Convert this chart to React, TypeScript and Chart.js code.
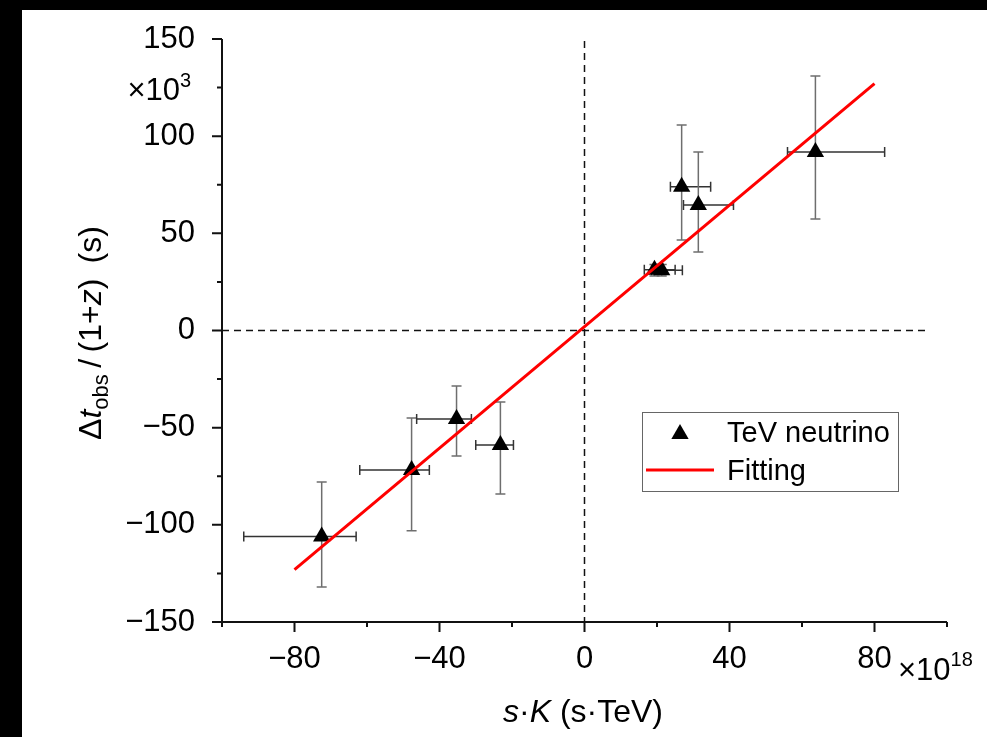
import React, { useEffect, useRef } from 'react';
import { Chart, registerables } from 'chart.js';

Chart.register(...registerables);

const FONT = '"Liberation Sans", Arial, Helvetica, sans-serif';

// TeV neutrino points (x in 1e18 s·TeV, y in 1e3 s)
const pointX = [-72.5, -47.7, -35.3, -23.2, 19.3, 21.3, 26.8, 31.4, 63.7];
const pointY = [-106, -71.8, -45.5, -58.9, 31.3, 31.0, 74, 64.6, 91.9];
const xErrLow = [-94, -62, -46.3, -30, 16.5, 18.5, 23.7, 27.3, 56];
const xErrHigh = [-63, -42.8, -31.2, -19.6, 25, 27, 34.8, 41.1, 82.8];
const yErrLow = [-132, -103, -64.6, -84.1, 28, 28, 46.6, 40.4, 57.4];
const yErrHigh = [-78, -45, -28.5, -36.8, 34, 34, 105.8, 91.9, 131];

// Fitting line
const fitX = [-80, 80];
const fitY = [-123, 127];

// Axis ranges / ticks
const xMin = -100, xMax = 100, xStep = 20, xLabelEvery = 40;
const yMin = -150, yMax = 150, yStep = 25, yLabelEvery = 50;

const fmt = (v: number) => (v < 0 ? '\u2212' + Math.abs(v) : String(v));

const decorPlugin = {
  id: 'decor',
  beforeDraw(chart: any) {
    const { ctx, width, height } = chart;
    ctx.save();
    ctx.fillStyle = '#000';
    ctx.fillRect(0, 0, width, height);
    ctx.fillStyle = '#fff';
    ctx.fillRect(22, 10, width - 22, height - 10);
    ctx.restore();
  },
  beforeDatasetsDraw(chart: any) {
    const { ctx, chartArea } = chart;
    const xs = chart.scales.x, ys = chart.scales.y;
    ctx.save();
    // dashed zero lines
    ctx.strokeStyle = '#111';
    ctx.lineWidth = 1.5;
    ctx.setLineDash([7, 5]);
    ctx.beginPath();
    const x0 = xs.getPixelForValue(0);
    ctx.moveTo(x0, chartArea.top + 2);
    ctx.lineTo(x0, chartArea.bottom);
    const y0 = ys.getPixelForValue(0);
    ctx.moveTo(chartArea.left, y0);
    ctx.lineTo(xs.getPixelForValue(95), y0);
    ctx.stroke();
    ctx.setLineDash([]);
    // error bars
    const cap = 5;
    for (let i = 0; i < pointX.length; i++) {
      const px = xs.getPixelForValue(pointX[i]);
      const py = ys.getPixelForValue(pointY[i]);
      const yl = ys.getPixelForValue(yErrLow[i]);
      const yh = ys.getPixelForValue(yErrHigh[i]);
      const xl = xs.getPixelForValue(xErrLow[i]);
      const xh = xs.getPixelForValue(xErrHigh[i]);
      ctx.lineWidth = 1.5;
      ctx.strokeStyle = '#6e6e6e';
      ctx.beginPath();
      ctx.moveTo(px, yl); ctx.lineTo(px, yh);
      ctx.moveTo(px - cap, yl); ctx.lineTo(px + cap, yl);
      ctx.moveTo(px - cap, yh); ctx.lineTo(px + cap, yh);
      ctx.stroke();
      ctx.strokeStyle = '#333';
      ctx.beginPath();
      ctx.moveTo(xl, py); ctx.lineTo(xh, py);
      ctx.moveTo(xl, py - cap); ctx.lineTo(xl, py + cap);
      ctx.moveTo(xh, py - cap); ctx.lineTo(xh, py + cap);
      ctx.stroke();
    }
    ctx.restore();
  },
  afterDraw(chart: any) {
    const { ctx, chartArea } = chart;
    const xs = chart.scales.x, ys = chart.scales.y;
    const { left, right, top, bottom } = chartArea;
    ctx.save();
    // axes
    ctx.strokeStyle = '#111';
    ctx.lineWidth = 2;
    ctx.beginPath();
    ctx.moveTo(left, top);
    ctx.lineTo(left, bottom + 1);
    ctx.moveTo(left - 1, bottom);
    ctx.lineTo(right, bottom);
    ys.ticks.forEach((t: any) => {
      const p = ys.getPixelForValue(t.value);
      const len = Math.abs(t.value) % yLabelEvery === 0 ? 10 : 5;
      ctx.moveTo(left - len, p);
      ctx.lineTo(left, p);
    });
    xs.ticks.forEach((t: any) => {
      const p = xs.getPixelForValue(t.value);
      const len = Math.abs(t.value) % xLabelEvery === 0 && Math.abs(t.value) < xMax ? 10 : 5;
      ctx.moveTo(p, bottom);
      ctx.lineTo(p, bottom + len);
    });
    ctx.stroke();

    ctx.fillStyle = '#000';
    ctx.textBaseline = 'alphabetic';
    // y multiplier ×10^3
    ctx.font = `31px ${FONT}`;
    ctx.textAlign = 'right';
    ctx.fillText('\u00d710', 180, 100);
    ctx.font = `20px ${FONT}`;
    ctx.textAlign = 'left';
    ctx.fillText('3', 180, 87);
    // x multiplier ×10^18
    ctx.font = `31px ${FONT}`;
    ctx.textAlign = 'left';
    ctx.fillText('\u00d710', 898, 680);
    const w10 = ctx.measureText('\u00d710').width;
    ctx.font = `20px ${FONT}`;
    ctx.fillText('18', 898 + w10, 666);

    // x title: s·K (s·TeV)
    const partsX = [
      { t: 's', f: `italic 32px ${FONT}` },
      { t: '\u00b7', f: `32px ${FONT}` },
      { t: 'K', f: `italic 32px ${FONT}` },
      { t: ' (s\u00b7TeV)', f: `32px ${FONT}` },
    ];
    let tw = 0;
    partsX.forEach(p => { ctx.font = p.f; tw += ctx.measureText(p.t).width; });
    let cx = 583 - tw / 2;
    partsX.forEach(p => { ctx.font = p.f; ctx.fillText(p.t, cx, 722); cx += ctx.measureText(p.t).width; });

    // y title: Δt_obs/(1+z) (s)
    const partsY = [
      { t: '\u0394', f: `32px ${FONT}`, dy: 0 },
      { t: 't', f: `italic 32px ${FONT}`, dy: 0 },
      { t: 'obs', f: `22px ${FONT}`, dy: 7 },
      { t: '\u2009/\u2009(1+', f: `32px ${FONT}`, dy: 0 },
      { t: 'z', f: `italic 32px ${FONT}`, dy: 0 },
      { t: ')\u2009 (s)', f: `32px ${FONT}`, dy: 0 },
    ];
    let th = 0;
    partsY.forEach(p => { ctx.font = p.f; th += ctx.measureText(p.t).width; });
    ctx.translate(101, 333);
    ctx.rotate(-Math.PI / 2);
    let cy = -th / 2;
    partsY.forEach(p => { ctx.font = p.f; ctx.fillText(p.t, cy, p.dy); cy += ctx.measureText(p.t).width; });
    ctx.setTransform(1, 0, 0, 1, 0, 0);

    // legend
    ctx.strokeStyle = '#666';
    ctx.lineWidth = 1;
    ctx.strokeRect(642.5, 412.5, 256, 79);
    const tx = 680, ty = 434, r = 10;
    ctx.fillStyle = '#000';
    ctx.beginPath();
    ctx.moveTo(tx, ty - r);
    ctx.lineTo(tx + r * Math.sin((2 * Math.PI) / 3), ty - r * Math.cos((2 * Math.PI) / 3));
    ctx.lineTo(tx + r * Math.sin((4 * Math.PI) / 3), ty - r * Math.cos((4 * Math.PI) / 3));
    ctx.closePath();
    ctx.fill();
    ctx.strokeStyle = '#ff0000';
    ctx.lineWidth = 3;
    ctx.beginPath();
    ctx.moveTo(646, 470);
    ctx.lineTo(714, 470);
    ctx.stroke();
    ctx.fillStyle = '#000';
    ctx.font = `29px ${FONT}`;
    ctx.textAlign = 'left';
    ctx.fillText('TeV neutrino', 727, 442);
    ctx.fillText('Fitting', 727, 480);
    ctx.restore();
  },
};

export default function App() {
  const ref = useRef<HTMLCanvasElement>(null);
  useEffect(() => {
    const canvas = ref.current!;
    const chart = new Chart(canvas, {
      type: 'scatter',
      data: {
        datasets: [
          {
            type: 'line',
            label: 'Fitting',
            data: fitX.map((x, i) => ({ x, y: fitY[i] })),
            borderColor: '#ff0000',
            borderWidth: 3,
            pointRadius: 0,
            fill: false,
            order: 0,
          } as any,
          {
            type: 'scatter',
            label: 'TeV neutrino',
            data: pointX.map((x, i) => ({ x, y: pointY[i] })),
            pointStyle: 'triangle',
            pointRadius: 10,
            pointHoverRadius: 10,
            backgroundColor: '#000',
            borderColor: '#000',
            borderWidth: 0,
            order: 1,
          } as any,
        ],
      },
      options: {
        responsive: false,
        animation: false,
        devicePixelRatio: 1,
        layout: { padding: { top: 39, right: 40, bottom: 0, left: 0 } },
        plugins: { legend: { display: false }, tooltip: { enabled: false } },
        scales: {
          x: {
            type: 'linear',
            min: xMin,
            max: xMax,
            afterFit(s: any) { s.height = 115; s.paddingLeft = 0; s.paddingRight = 0; },
            grid: { display: false, drawTicks: false },
            border: { display: false },
            ticks: {
              stepSize: xStep,
              autoSkip: false,
              maxRotation: 0,
              padding: 19,
              color: '#000',
              font: { family: FONT, size: 31 },
              callback: (v: any) => (Math.abs(v) % xLabelEvery === 0 && Math.abs(v) < xMax ? fmt(v) : ''),
            },
          },
          y: {
            type: 'linear',
            min: yMin,
            max: yMax,
            afterFit(s: any) { s.width = 222; s.paddingTop = 0; s.paddingBottom = 0; },
            grid: { display: false, drawTicks: false },
            border: { display: false },
            ticks: {
              stepSize: yStep,
              autoSkip: false,
              padding: 27,
              color: '#000',
              font: { family: FONT, size: 31 },
              callback: (v: any) => (Math.abs(v) % yLabelEvery === 0 ? fmt(v) : ''),
            },
          },
        },
      },
      plugins: [decorPlugin],
    } as any);
    return () => chart.destroy();
  }, []);
  return (
    <div style={{ position: 'fixed', left: 0, top: 0, width: 987, height: 737 }}>
      <canvas ref={ref} width={987} height={737} style={{ display: 'block', width: 987, height: 737 }} />
    </div>
  );
}
